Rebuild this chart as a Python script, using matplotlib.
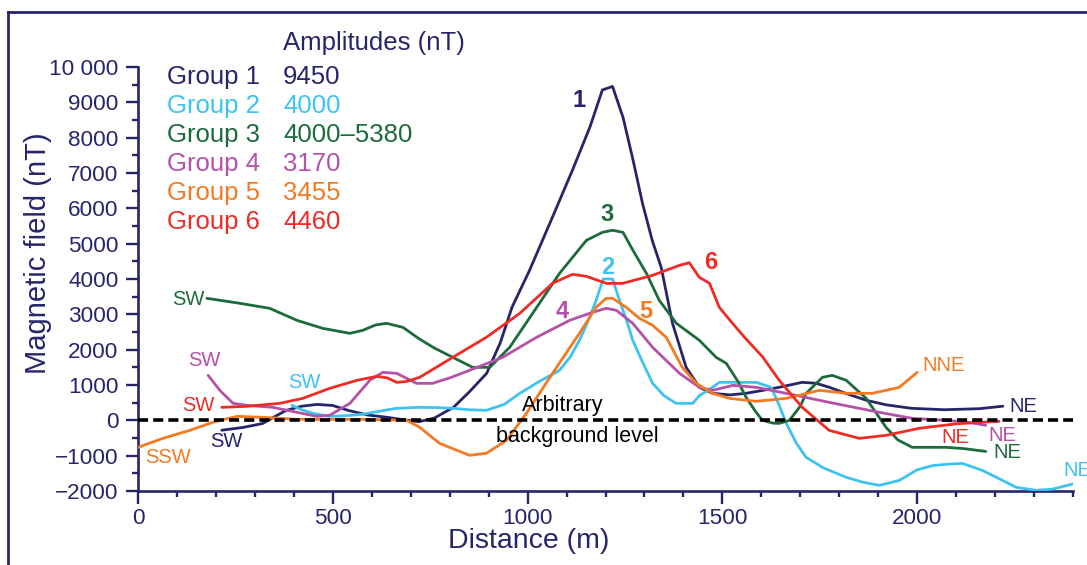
import matplotlib
matplotlib.use("Agg")
import matplotlib.pyplot as plt
from matplotlib.lines import Line2D
from matplotlib.ticker import MultipleLocator

plt.rcParams['font.family'] = ['Liberation Sans', 'DejaVu Sans']

# ---------------- data ----------------
x1 = [215, 270, 320, 350, 380, 420, 460, 500, 540, 590, 640, 680, 720, 760, 810, 850, 895, 930, 960, 1005,
      1060, 1115, 1160, 1192, 1218, 1245, 1270, 1295, 1320, 1343, 1372, 1407, 1441, 1475, 1520, 1560, 1600,
      1645, 1705, 1740, 1775, 1820, 1870, 1920, 1985, 2070, 2160, 2220]
y1 = [-280, -200, -90, 100, 280, 400, 450, 420, 280, 150, 85, 20, -40, 60, 370, 800, 1330, 2200, 3200, 4245,
      5650, 7075, 8300, 9350, 9450, 8575, 7400, 6140, 5090, 4330, 2745, 1500, 934, 764, 720, 764, 840,
      934, 1075, 1050, 934, 750, 566, 440, 340, 300, 330, 400]

x2 = [395, 420, 449, 492, 530, 577, 620, 664, 723, 770, 808, 850, 894, 940, 980, 1030, 1082, 1110, 1133, 1155,
      1176, 1194, 1218, 1236, 1255, 1270, 1295, 1321, 1350, 1381, 1424, 1441, 1475, 1492, 1540, 1587, 1625,
      1645, 1664, 1690, 1715, 1760, 1818, 1860, 1903, 1954, 2000, 2040, 2080, 2116, 2167, 2210, 2254, 2305,
      2346, 2400]
y2 = [425, 300, 198, 113, 130, 170, 260, 340, 368, 360, 340, 300, 283, 450, 764, 1100, 1415, 1800, 2264, 2800,
      3396, 4000, 4000, 3396, 2800, 2264, 1650, 1047, 700, 481, 481, 700, 934, 1075, 1075, 1075, 934,
      450, -85, -650, -1047, -1350, -1613, -1750, -1840, -1700, -1400, -1280, -1240, -1220, -1415, -1650, -1896,
      -1980, -1950, -1800]

x3 = [177, 262, 338, 408, 474, 544, 577, 610, 638, 680, 720, 760, 808, 859, 903, 954, 1013, 1082, 1151, 1192,
      1218, 1245, 1269, 1305, 1338, 1382, 1441, 1484, 1510, 1540, 1561, 1585, 1603, 1630, 1646, 1672, 1700,
      1715, 1757, 1782, 1818, 1869, 1920, 1950, 1987, 2074, 2120, 2176]
y3 = [3453, 3311, 3170, 2830, 2604, 2462, 2547, 2700, 2745, 2632, 2320, 2050, 1783, 1500, 1500, 2066, 3028,
      4160, 5094, 5320, 5380, 5320, 4840, 4160, 3396, 2745, 2264, 1783, 1613, 1100, 651, 250, 0, -80, -85, 0,
      400, 764, 1217, 1273, 1132, 622, -198, -550, -764, -764, -800, -880]

x4 = [180, 210, 244, 279, 346, 408, 459, 492, 544, 595, 628, 664, 715, 756, 800, 851, 936, 1023, 1108, 1167,
      1202, 1228, 1270, 1321, 1390, 1441, 1475, 1527, 1587, 1689, 1774, 1903, 1987, 2074, 2133, 2176]
y4 = [1273, 849, 481, 425, 368, 226, 113, 142, 481, 1132, 1358, 1330, 1047, 1047, 1200, 1415, 1783, 2349, 2830,
      3057, 3170, 3113, 2745, 2066, 1330, 934, 849, 990, 934, 707, 509, 226, 57, 0, -57, -141]

x5 = [0, 64, 133, 192, 254, 321, 408, 500, 577, 690, 723, 774, 851, 894, 946, 997, 1064, 1133, 1176, 1202,
      1218, 1253, 1287, 1321, 1356, 1397, 1433, 1475, 1518, 1587, 1664, 1749, 1818, 1885, 1954, 2000]
y5 = [-764, -510, -283, -57, 113, 85, 28, 28, 28, 0, -198, -651, -990, -934, -566, 198, 1330, 2462, 3200, 3455,
      3455, 3200, 2887, 2689, 2349, 1500, 1047, 764, 622, 538, 622, 849, 764, 764, 934, 1358]

x6 = [215, 279, 364, 423, 492, 562, 613, 640, 664, 690, 723, 808, 894, 980, 1064, 1115, 1151, 1202, 1244, 1321,
      1390, 1415, 1441, 1467, 1492, 1526, 1561, 1603, 1646, 1705, 1774, 1851, 1920, 2005, 2100, 2159, 2210]
y6 = [368, 396, 481, 622, 905, 1132, 1245, 1200, 1075, 1100, 1217, 1783, 2349, 3028, 3877, 4132, 4075, 3877,
      3877, 4104, 4387, 4460, 4047, 3877, 3200, 2745, 2300, 1800, 1132, 368, -283, -510, -425, -226, -100,
      -57, -30]

groups = ['Group 1', 'Group 2', 'Group 3', 'Group 4', 'Group 5', 'Group 6']
amplitudes = ['9450', '4000', '4000\u20135380', '3170', '3455', '4460']
peak_labels = ['1', '2', '3', '4', '5', '6']
y_ticks = [-2000, -1000, 0, 1000, 2000, 3000, 4000, 5000, 6000, 7000, 8000, 9000, 10000]
y_ticklabels = ['\u22122000', '\u22121000', '0', '1000', '2000', '3000', '4000', '5000', '6000', '7000',
                '8000', '9000', '10 000']
x_ticks = [0, 500, 1000, 1500, 2000]

# ---------------- style ----------------
W, H = 1087, 565
navy = '#27256a'
colors = [navy, '#3ec3f0', '#1c6b3b', '#b451a8', '#f47a22', '#ee2b25']

fig = plt.figure(figsize=(W / 100, H / 100), dpi=100)
ax = fig.add_axes([138 / W, 1 - 491 / H, (1073 - 138) / W, (491 - 67) / H])

xs = [x1, x2, x3, x4, x5, x6]
ys = [y1, y2, y3, y4, y5, y6]
for xv, yv, c in zip(xs, ys, colors):
    ax.plot(xv, yv, color=c, lw=2.0, solid_joinstyle='round', solid_capstyle='round', zorder=3)

ax.axhline(0, color='black', lw=2.6, dashes=(2.8, 1.4), zorder=4)

ax.set_xlim(0, 2400)
ax.set_ylim(-2000, 10000)
for s in ['top', 'right']:
    ax.spines[s].set_visible(False)
for s in ['left', 'bottom']:
    ax.spines[s].set_color(navy)
    ax.spines[s].set_linewidth(1.9)

ax.set_yticks(y_ticks)
ax.set_yticklabels(y_ticklabels)
ax.set_xticks(x_ticks)
ax.yaxis.set_minor_locator(MultipleLocator(500))
ax.xaxis.set_minor_locator(MultipleLocator(100))
ax.tick_params(axis='both', which='major', direction='out', length=9, width=1.7, color=navy,
               labelcolor=navy, labelsize=16.2)
ax.tick_params(axis='both', which='minor', direction='out', length=4.5, width=1.7, color=navy)
ax.tick_params(axis='y', which='major', pad=5)
ax.tick_params(axis='x', which='major', pad=3)


def fx(px):
    return px / W


def fy(py):
    return 1 - py / H


# axis titles placed as in the reference
fig.text(fx(38), fy(253), 'Magnetic field (nT)', fontsize=21, color=navy, rotation=90,
         ha='center', va='center')
fig.text(fx(529), fy(541), 'Distance (m)', fontsize=20.5, color=navy, ha='center', va='center')

# legend (text block)
fig.text(fx(283), fy(43), 'Amplitudes (nT)', fontsize=18.5, color=navy, va='center', ha='left')
rows_y = [77, 106, 135, 164, 193, 222]
for g, a, c, yy in zip(groups, amplitudes, colors, rows_y):
    fig.text(fx(167), fy(yy), g, fontsize=18.5, color=c, va='center', ha='left')
    fig.text(fx(283), fy(yy), a, fontsize=18.5, color=c, va='center', ha='left')

# peak labels
peak_pos = [(1133, 9050), (1205, 4330), (1205, 5820), (1090, 3090), (1303, 3090), (1469, 4480)]
for lab, (px, py), c in zip(peak_labels, peak_pos, colors):
    ax.text(px, py, lab, fontsize=17, fontweight='bold', color=c, ha='center', va='center')

# end labels
end_labels = [
    ('SW', 128, 3430, colors[2]), ('SW', 169, 1700, colors[3]), ('SW', 428, 1070, colors[1]),
    ('SW', 156, 420, colors[5]), ('SW', 228, -600, colors[0]), ('SSW', 77, -1050, colors[4]),
    ('NNE', 2069, 1560, colors[4]), ('NE', 2272, 400, colors[0]), ('NE', 2097, -490, colors[5]),
    ('NE', 2218, -430, colors[3]), ('NE', 2232, -910, colors[2]), ('NE', 2410, -1420, colors[1]),
]
for t, px, py, c in end_labels:
    ax.text(px, py, t, fontsize=14.5, color=c, ha='center', va='center', clip_on=False)

ax.text(1090, 430, 'Arbitrary', fontsize=15.5, color='black', ha='center', va='center', zorder=5)
ax.text(1128, -460, 'background level', fontsize=15.5, color='black', ha='center', va='center', zorder=5)

# outer frame (left and top edges visible)
fig.add_artist(Line2D([fx(8), fx(8)], [fy(12), 0], transform=fig.transFigure, color=navy, lw=2))
fig.add_artist(Line2D([fx(8), 1], [fy(12), fy(12)], transform=fig.transFigure, color=navy, lw=2))

fig.savefig('out.png', dpi=100)
